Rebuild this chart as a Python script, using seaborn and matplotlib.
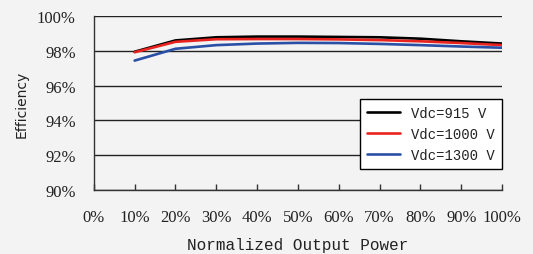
import matplotlib.pyplot as plt
import matplotlib.ticker as mticker
import seaborn as sns
import pandas as pd

potencia = [10, 20, 30, 40, 50, 60, 70, 80, 90, 100]
ef_915 = [97.95, 98.60, 98.78, 98.82, 98.82, 98.80, 98.78, 98.70, 98.55, 98.42]
ef_1000 = [97.92, 98.52, 98.67, 98.68, 98.68, 98.66, 98.62, 98.55, 98.45, 98.33]
ef_1300 = [97.44, 98.12, 98.33, 98.42, 98.46, 98.45, 98.40, 98.33, 98.25, 98.18]
series = ["Vdc=915 V", "Vdc=1000 V", "Vdc=1300 V"]
colores = ["#000000", "#e8231f", "#2a50a6"]

df = pd.DataFrame({
    "Potencia": potencia * 3,
    "Eficiencia": ef_915 + ef_1000 + ef_1300,
    "Serie": [series[0]] * 10 + [series[1]] * 10 + [series[2]] * 10,
})

sns.set_theme(style="white")
bg = "#f3f3f3"

fig = plt.figure(figsize=(5.33, 2.55), dpi=100, facecolor=bg)
ax = fig.add_axes([0.176, 0.251, 0.766, 0.682])
ax.set_facecolor(bg)

sns.lineplot(data=df, x="Potencia", y="Eficiencia", hue="Serie",
             palette=colores, linewidth=1.9, ax=ax)

ax.set_xlim(0, 100)
ax.set_ylim(90, 100)
ax.xaxis.set_major_locator(mticker.MultipleLocator(10))
ax.yaxis.set_major_locator(mticker.MultipleLocator(2))
ax.xaxis.set_major_formatter(mticker.FuncFormatter(lambda v, p: f"{v:.0f}%"))
ax.yaxis.set_major_formatter(mticker.FuncFormatter(lambda v, p: f"{v:.0f}%"))

# Rejilla horizontal
ax.yaxis.grid(True, color="#222222", linewidth=1.0)
ax.xaxis.grid(False)
ax.set_axisbelow(True)

for s in ["top", "right"]:
    ax.spines[s].set_visible(False)
for s in ["left", "bottom"]:
    ax.spines[s].set_color("#333333")
    ax.spines[s].set_linewidth(1.0)

ax.tick_params(axis="x", direction="in", length=4, width=1, color="#333333",
               pad=14, bottom=True)
ax.tick_params(axis="y", length=0, pad=13)
for lab in ax.get_xticklabels() + ax.get_yticklabels():
    lab.set_fontfamily("Liberation Serif")
    lab.set_fontsize(12)
    lab.set_color("#222222")

ax.set_xlabel("Normalized Output Power", family="Liberation Mono", fontsize=11.5,
              color="#222222", labelpad=8)
ax.set_ylabel("Efficiency", family="DejaVu Sans", fontsize=10,
              color="#222222", labelpad=6)

leg = ax.legend(loc="upper right", bbox_to_anchor=(1.0, 0.523),
                prop={"family": "Liberation Mono", "size": 10},
                frameon=True, fancybox=False, framealpha=1,
                edgecolor="#000000", facecolor="white",
                handlelength=2.4, borderpad=0.5, labelspacing=0.5,
                borderaxespad=0)
leg.get_frame().set_linewidth(1.0)
for t in leg.get_texts():
    t.set_color("#222222")

fig.savefig("out.png", dpi=100, facecolor=bg)
